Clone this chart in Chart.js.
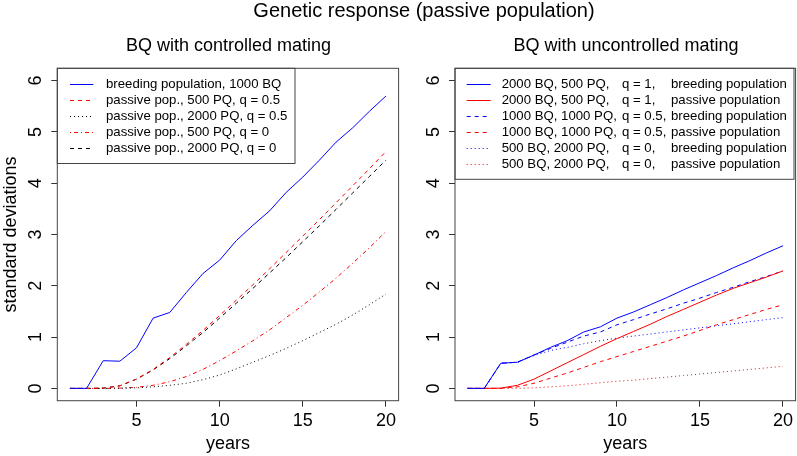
<!DOCTYPE html>
<html>
<head>
<meta charset="utf-8">
<script src="https://cdn.jsdelivr.net/npm/chart.js@4/dist/chart.umd.min.js"></script>
<style>
  body { margin: 0; background: #fff; }
  #wrap { position: relative; width: 797px; height: 456px; overflow: hidden; font-family: 'Liberation Sans', Arial, sans-serif; }
  .ttl { position: absolute; text-align: center; white-space: nowrap; color: #000; }
  canvas { position: absolute; top: 0; }
</style>
</head>
<body>
<div id="wrap">
  <canvas id="left" width="400" height="456" style="left:0;width:400px;height:456px"></canvas>
  <canvas id="right" width="397" height="456" style="left:400px;width:397px;height:456px"></canvas>
  <div class="ttl" style="left:0;width:848px;top:-0.5px;font-size:20px;line-height:20px">Genetic response (passive population)</div>
  <div class="ttl" style="left:0;width:457px;top:36px;font-size:18px;line-height:18px">BQ with controlled mating</div>
  <div class="ttl" style="left:455px;width:342px;top:36px;font-size:18px;line-height:18px">BQ with uncontrolled mating</div>
</div>
<script>
// years on the x axis and tick values
const years = [1, 2, 3, 4, 5, 6, 7, 8, 9, 10, 11, 12, 13, 14, 15, 16, 17, 18, 19, 20];
const xTicks = [5, 10, 15, 20];
const yTicks = [0, 1, 2, 3, 4, 5, 6];

// left panel: BQ with controlled mating
const breeding1000BQ = [0, 0, 0.54, 0.53, 0.79, 1.37, 1.48, 1.87, 2.24, 2.50, 2.88, 3.18, 3.46, 3.82, 4.12, 4.45, 4.80, 5.08, 5.40, 5.70];
const passive500q05  = [0, 0, 0.005, 0.05, 0.18, 0.37, 0.60, 0.86, 1.13, 1.42, 1.72, 2.02, 2.33, 2.65, 2.97, 3.29, 3.62, 3.95, 4.28, 4.62];
const passive2000q05 = [0, 0, 0, 0.003, 0.01, 0.03, 0.06, 0.10, 0.17, 0.26, 0.38, 0.51, 0.64, 0.78, 0.93, 1.09, 1.25, 1.43, 1.63, 1.84];
const passive500q0   = [0, 0, 0, 0.005, 0.02, 0.06, 0.13, 0.23, 0.37, 0.54, 0.73, 0.93, 1.14, 1.38, 1.62, 1.88, 2.15, 2.44, 2.74, 3.06];
const passive2000q0  = [0, 0, 0.005, 0.05, 0.18, 0.36, 0.58, 0.83, 1.09, 1.37, 1.66, 1.95, 2.25, 2.55, 2.86, 3.17, 3.49, 3.81, 4.13, 4.45];
const leftLabels = [
  ['breeding population, 1000 BQ'],
  ['passive pop., 500 PQ, q = 0.5'],
  ['passive pop., 2000 PQ, q = 0.5'],
  ['passive pop., 500 PQ, q = 0'],
  ['passive pop., 2000 PQ, q = 0']
];

// right panel: BQ with uncontrolled mating
const q1Breeding   = [0, 0, 0.49, 0.51, 0.65, 0.80, 0.93, 1.10, 1.20, 1.37, 1.49, 1.63, 1.77, 1.92, 2.06, 2.20, 2.35, 2.49, 2.64, 2.78];
const q1Passive    = [0, 0, 0.005, 0.06, 0.18, 0.34, 0.50, 0.66, 0.82, 0.97, 1.11, 1.25, 1.40, 1.54, 1.68, 1.82, 1.95, 2.06, 2.17, 2.29];
const q05Breeding  = [0, 0, 0.49, 0.51, 0.65, 0.78, 0.90, 1.02, 1.10, 1.24, 1.34, 1.45, 1.55, 1.66, 1.76, 1.87, 1.97, 2.08, 2.18, 2.29];
const q05Passive   = [0, 0, 0, 0.03, 0.10, 0.20, 0.30, 0.41, 0.52, 0.62, 0.72, 0.82, 0.92, 1.02, 1.13, 1.24, 1.34, 1.44, 1.54, 1.63];
const q0Breeding   = [0, 0, 0.49, 0.51, 0.64, 0.74, 0.80, 0.87, 0.93, 0.98, 1.02, 1.06, 1.10, 1.14, 1.18, 1.22, 1.26, 1.30, 1.34, 1.38];
const q0Passive    = [0, 0, 0, 0.003, 0.01, 0.03, 0.05, 0.08, 0.11, 0.14, 0.16, 0.19, 0.22, 0.25, 0.28, 0.31, 0.34, 0.37, 0.40, 0.43];
const rightLabels = [
  ['2000 BQ, 500 PQ,', 'q = 1,', 'breeding population'],
  ['2000 BQ, 500 PQ,', 'q = 1,', 'passive population'],
  ['1000 BQ, 1000 PQ,', 'q = 0.5,', 'breeding population'],
  ['1000 BQ, 1000 PQ,', 'q = 0.5,', 'passive population'],
  ['500 BQ, 2000 PQ,', 'q = 0,', 'breeding population'],
  ['500 BQ, 2000 PQ,', 'q = 0,', 'passive population']
];

const FONT = "'Liberation Sans', Arial, sans-serif";
Chart.defaults.font.family = FONT;
Chart.defaults.font.size = 18;
Chart.defaults.color = '#000';

const SOLID = [], DASHED = [4, 4], DOTTED = [1, 3], DOTDASH = [1, 3, 4, 3];

function series(values, color, dash) {
  return {
    data: years.map((x, i) => ({ x: x, y: values[i] })),
    borderColor: color,
    borderDash: dash,
    borderWidth: 1,
    pointRadius: 0,
    tension: 0,
    fill: false
  };
}

// legend box in the top left corner of the plot, plus the frame round the plot
const boxLegend = {
  id: 'boxLegend',
  afterDraw(chart, args, opts) {
    const ctx = chart.ctx;
    const a = chart.chartArea;
    const x0 = a.left, y0 = a.top;
    ctx.save();
    ctx.fillStyle = '#fff';
    ctx.fillRect(x0, y0, opts.width, opts.height);
    ctx.strokeStyle = '#444';
    ctx.lineWidth = 1;
    ctx.strokeRect(x0, y0, opts.width, opts.height);
    ctx.font = opts.fontSize + 'px ' + FONT;
    ctx.textBaseline = 'middle';
    opts.labels.forEach((parts, i) => {
      const ds = chart.data.datasets[i];
      const y = Math.round(y0 + opts.firstRow + i * opts.rowStep) + 0.5;
      ctx.strokeStyle = ds.borderColor;
      ctx.setLineDash(ds.borderDash);
      ctx.beginPath();
      ctx.moveTo(x0 + opts.lineX[0], y);
      ctx.lineTo(x0 + opts.lineX[1], y);
      ctx.stroke();
      ctx.setLineDash([]);
      ctx.fillStyle = '#000';
      parts.forEach((p, j) => ctx.fillText(p, x0 + opts.textX[j], y));
    });
    ctx.strokeStyle = '#444';
    ctx.strokeRect(a.left, a.top, a.right - a.left, a.bottom - a.top);
    ctx.restore();
  }
};

function makeChart(id, datasets, yWidth, padRight, showYTitle, legendOpts) {
  return new Chart(document.getElementById(id), {
    type: 'line',
    data: { datasets: datasets },
    plugins: [boxLegend],
    options: {
      responsive: false,
      animation: false,
      events: [],
      layout: { padding: { top: 68.3, right: padRight, left: 0, bottom: 0 } },
      plugins: {
        legend: { display: false },
        title: { display: false },
        tooltip: { enabled: false },
        boxLegend: legendOpts
      },
      scales: {
        x: {
          type: 'linear',
          min: 0.24,
          max: 20.76,
          afterBuildTicks: s => { s.ticks = xTicks.map(v => ({ value: v })); },
          afterFit: s => { s.height = 55.3; },
          grid: { drawOnChartArea: false, drawTicks: true, tickLength: 6, color: '#333' },
          border: { display: false },
          ticks: { padding: 4, autoSkip: false, maxRotation: 0, font: { size: 18 } },
          title: { display: true, text: 'years', font: { size: 18 }, padding: { top: 0, bottom: 1 } }
        },
        y: {
          type: 'linear',
          min: -0.24,
          max: 6.24,
          afterBuildTicks: s => { s.ticks = yTicks.map(v => ({ value: v })); },
          afterFit: s => { s.width = yWidth; },
          grid: { drawOnChartArea: false, drawTicks: true, tickLength: 6, color: '#333' },
          border: { display: false },
          ticks: { minRotation: 90, maxRotation: 90, crossAlign: 'center', padding: 10, autoSkip: false, font: { size: 18 } },
          title: { display: showYTitle, text: 'standard deviations', font: { size: 18 }, padding: { top: 0, bottom: 0 } }
        }
      }
    }
  });
}

makeChart('left', [
  series(breeding1000BQ, '#0000ff', SOLID),
  series(passive500q05, '#ff0000', DASHED),
  series(passive2000q05, '#000000', DOTTED),
  series(passive500q0, '#ff0000', DOTDASH),
  series(passive2000q0, '#000000', DASHED)
], 57.3, 0.7, true, {
  labels: leftLabels, width: 237.7, height: 95.2, firstRow: 15.7, rowStep: 15.95,
  lineX: [12.7, 36], textX: [48.7], fontSize: 13.2
});

makeChart('right', [
  series(q1Breeding, '#0000ff', SOLID),
  series(q1Passive, '#ff0000', SOLID),
  series(q05Breeding, '#0000ff', DASHED),
  series(q05Passive, '#ff0000', DASHED),
  series(q0Breeding, '#0000ff', DOTTED),
  series(q0Passive, '#ff0000', DOTTED)
], 55, 0.3, false, {
  labels: rightLabels, width: 339, height: 111, firstRow: 15.7, rowStep: 15.9,
  lineX: [11.7, 35.7], textX: [46.7, 167, 216], fontSize: 13.2
});
</script>
</body>
</html>
